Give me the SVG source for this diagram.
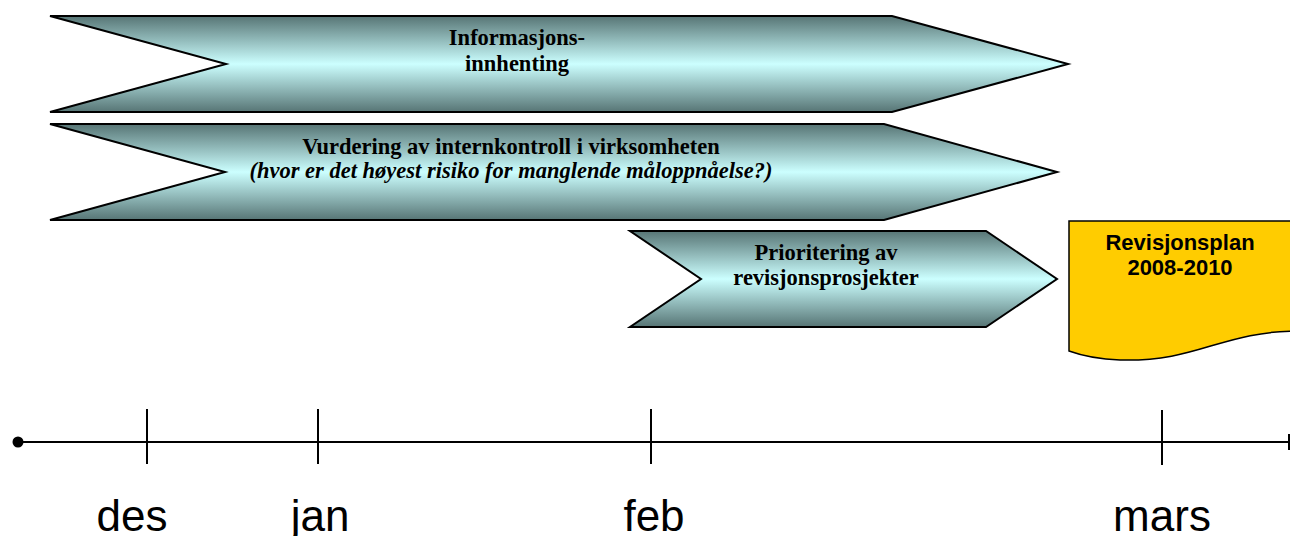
<svg xmlns="http://www.w3.org/2000/svg" width="1290" height="536" viewBox="0 0 1290 536">
<defs>
<linearGradient id="g" x1="0" y1="0" x2="0" y2="1">
<stop offset="0" stop-color="#577575"/>
<stop offset="0.5" stop-color="#ccffff"/>
<stop offset="1" stop-color="#577575"/>
</linearGradient>
<style>
.chev{fill:url(#g);stroke:#000;stroke-width:2;stroke-linejoin:miter}
.t{font-family:"Liberation Serif","Times New Roman",serif;font-weight:bold;font-size:22.5px;fill:#000;text-anchor:middle}
.i{font-style:italic}
.doc{fill:#ffcc00;stroke:#000;stroke-width:1.5}
.dt{font-family:"Liberation Sans",Arial,sans-serif;font-weight:bold;font-size:22px;fill:#000;text-anchor:middle}
.ax{stroke:#000;stroke-width:2;fill:none}
.m{font-family:"Liberation Sans",Arial,sans-serif;font-size:44px;fill:#000;text-anchor:middle}
</style>
</defs>
<g id="informasjonsinnhenting">
<polygon class="chev" points="50,16 892,16 1068,64 892,112 50,112 226,64"/>
<text class="t" x="517" y="45">Informasjons-</text>
<text class="t" x="517" y="71">innhenting</text>
</g>
<g id="vurdering">
<polygon class="chev" points="50,124 884,124 1057,172 884,220 50,220 225,172"/>
<text class="t" x="511" y="154">Vurdering av internkontroll i virksomheten</text>
<text class="t i" x="511" y="178">(hvor er det høyest risiko for manglende måloppnåelse?)</text>
</g>
<g id="prioritering">
<polygon class="chev" points="630,231 986,231 1057,279 986,327 630,327 701,279"/>
<text class="t" x="826" y="260">Prioritering av</text>
<text class="t" x="826" y="285">revisjonsprosjekter</text>
</g>
<g id="revisjonsplan">
<path class="doc" d="M1069,221 L1300,221 L1300,331 C1220,331 1200,362 1120,360 C1095,359 1080,355 1069,351 Z"/>
<text class="dt" x="1180" y="250">Revisjonsplan</text>
<text class="dt" x="1180" y="275">2008-2010</text>
</g>
<g id="timeline">
<circle cx="18" cy="442" r="5.5" fill="#000"/>
<line class="ax" x1="18" y1="442" x2="1290" y2="442"/>
<line class="ax" x1="147" y1="409" x2="147" y2="464"/>
<line class="ax" x1="318" y1="409" x2="318" y2="464"/>
<line class="ax" x1="651" y1="409" x2="651" y2="464"/>
<line class="ax" x1="1162" y1="410" x2="1162" y2="465"/>
<line class="ax" x1="1289" y1="434" x2="1289" y2="450"/>
<text class="m" x="132" y="531">des</text>
<text class="m" x="320" y="531">jan</text>
<text class="m" x="654" y="531">feb</text>
<text class="m" x="1162" y="531">mars</text>
</g>
</svg>
